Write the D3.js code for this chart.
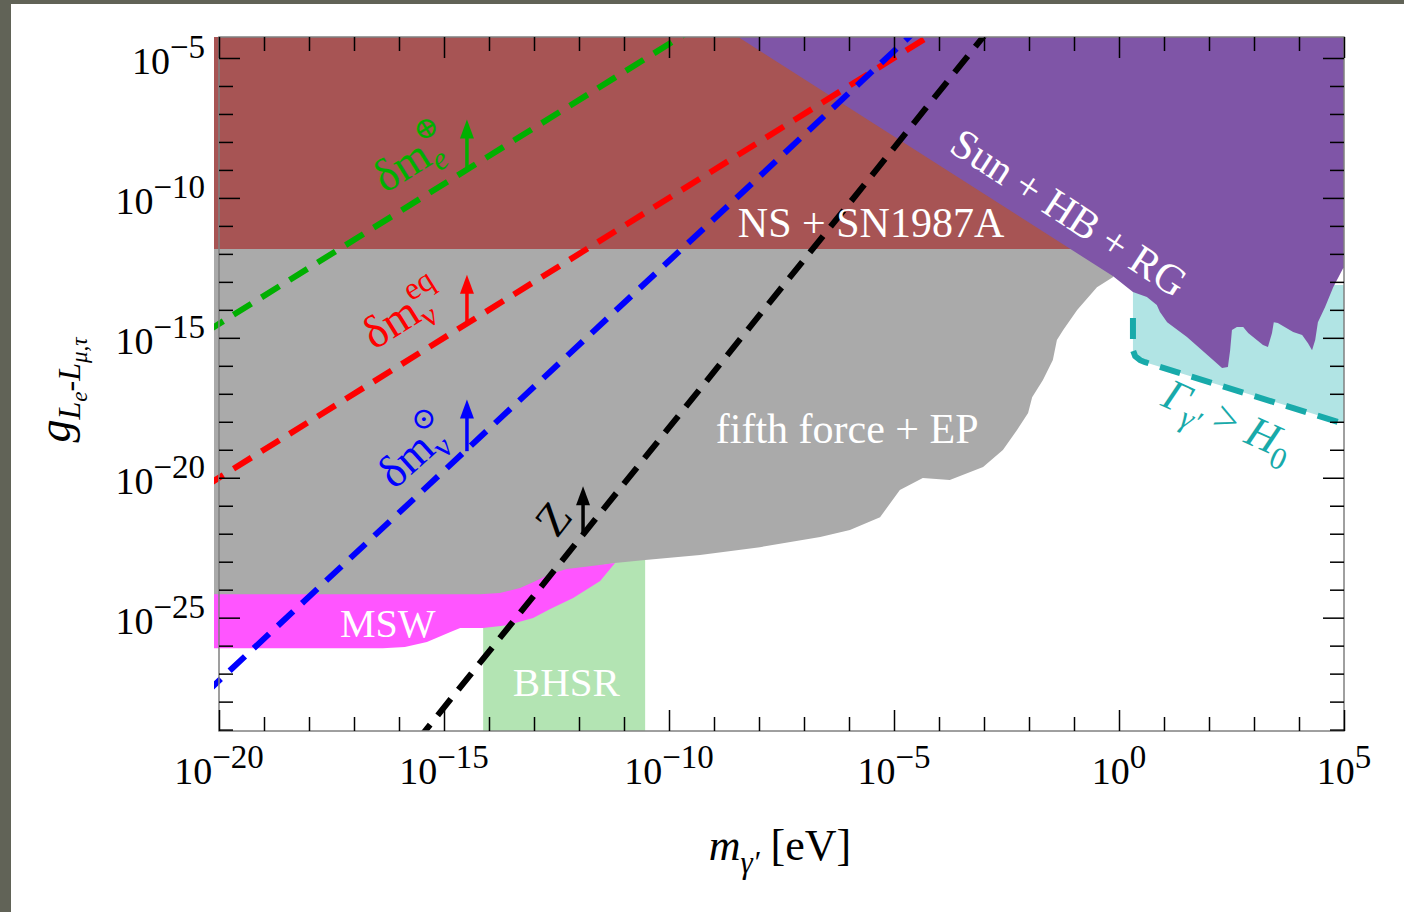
<!DOCTYPE html>
<html>
<head>
<meta charset="utf-8">
<script src="https://cdn.jsdelivr.net/npm/d3@7"></script>
<style>
  html, body { margin: 0; padding: 0; background: #fff; }
  svg { display: block; }
  text { font-family: "Liberation Serif", "DejaVu Serif", serif; }
</style>
</head>
<body>
<div id="chart"></div>
<script>
// all values are log10: [log10(m / eV), log10(g)]
const xMajor = [-20, -15, -10, -5, 0, 5];
const yMajor = [-5, -10, -15, -20, -25];

const bhsr = [[-14.13, -22.6], [-10.53, -22.6], [-10.53, -29.3], [-14.13, -29.3]];

const fifthForce = [
  [-20.12, -11.7], [0.1, -11.7], [-0.13, -12.83], [-0.49, -13.19], [-0.93, -14.01],
  [-1.24, -14.72], [-1.38, -15.08], [-1.47, -15.79], [-1.69, -16.51], [-1.93, -17.12],
  [-2.02, -17.69], [-2.27, -18.30], [-2.58, -19.01], [-3.02, -19.62], [-3.76, -20.08],
  [-4.36, -20.01], [-4.87, -20.44], [-5.31, -21.41], [-5.98, -21.87], [-6.64, -22.12],
  [-7.98, -22.48], [-9.31, -22.76], [-10.53, -22.94], [-11.2, -23.05], [-11.76, -23.2],
  [-12.2, -23.32], [-12.64, -23.55], [-13.02, -23.8], [-13.31, -24.05], [-13.76, -24.22],
  [-14.2, -24.26], [-20.12, -24.26]
];

const msw = [
  [-20.12, -24.16], [-14.2, -24.16], [-13.76, -24.12], [-13.31, -23.94], [-13.02, -23.73],
  [-12.64, -23.44], [-12.27, -23.26], [-11.76, -23.16], [-11.2, -23.05],
  [-11.53, -23.69], [-12.13, -24.30], [-12.64, -24.69], [-13.02, -25.01], [-13.6, -25.27],
  [-14.13, -25.37], [-14.64, -25.37], [-14.87, -25.52], [-15.38, -25.87], [-15.87, -26.05],
  [-16.36, -26.09], [-20.12, -26.09]
];

const nsSn = [[-20.12, -3.8], [1.0, -3.8], [1.0, -11.83], [-20.12, -11.83]];

const sunHbRg = [
  [-8.9, -3.8], [-0.13, -12.8], [0.31, -13.36], [0.62, -13.54], [0.84, -13.83], [0.91, -14.08],
  [1.07, -14.44], [1.51, -14.97], [2.09, -15.79], [2.29, -16.08], [2.42, -16.04], [2.47, -15.44],
  [2.51, -14.72], [2.62, -14.61], [2.76, -14.61], [2.87, -14.83], [3.2, -15.26], [3.31, -15.33],
  [3.4, -14.83], [3.44, -14.44], [3.53, -14.47], [3.87, -14.79], [4.07, -14.9], [4.2, -15.19],
  [4.29, -15.44], [4.36, -15.08], [4.42, -14.44], [4.58, -13.9], [4.76, -13.19], [4.98, -12.51],
  [5.2, -12.51], [5.2, -3.8]
];

const decay = [[0.31, -13.11], [0.31, -15.44], [0.38, -15.69], [0.58, -15.87], [4.91, -18.01], [5.2, -18.05], [5.2, -13.11]];
const decayEdge = [[0.31, -14.29], [0.31, -15.44], [0.36, -15.66], [0.47, -15.8], [0.58, -15.87], [4.87, -18.01]];

const dmEarth = [[-20.3, -14.8], [-9.0, -3.5]];
const dmEq = [[-20.3, -20.3], [-3.5, -3.5]];
const dmSun = [[-20.3, -27.7], [-4.5, -4.0]];
const zLine = [[-15.6, -29.41], [-2.9, -4.01]];

// arrow: [log m, log g at base, log g at tip]
const arrows = [[-14.49, -8.95, -7.2], [-14.49, -14.5, -12.75], [-14.49, -19.05, -17.2], [-11.91, -22.0, -20.3]];
const lineColors = ["#00b000", "#ff0000", "#0000ff", "#000000"];

const W = 1404, H = 912;
const svg = d3.select("#chart").append("svg").attr("width", W).attr("height", H);

svg.append("rect").attr("width", W).attr("height", H).attr("fill", "#fff");
svg.append("rect").attr("width", 11).attr("height", H).attr("fill", "#616357");
svg.append("rect").attr("width", W).attr("height", 4).attr("fill", "#616357");

const x = d3.scaleLog().domain([1e-20, 1e5]).range([219, 1344]);
const y = d3.scaleLog().domain([Math.pow(10, -29.05), Math.pow(10, -4.25)]).range([731, 37]);
const px = e => x(Math.pow(10, e));
const py = e => y(Math.pow(10, e));

svg.append("clipPath").attr("id", "plot")
  .append("rect").attr("x", 214).attr("y", 37).attr("width", 1130).attr("height", 694);

const plot = svg.append("g").attr("clip-path", "url(#plot)");
const line = d3.line().x(d => px(d[0])).y(d => py(d[1]));
const shape = d3.line().x(d => px(d[0])).y(d => py(d[1])).curve(d3.curveLinearClosed);

plot.append("path").attr("d", shape(bhsr)).attr("fill", "#b3e4b3");
plot.append("path").attr("d", shape(fifthForce)).attr("fill", "#aaaaaa");
plot.append("path").attr("d", shape(msw)).attr("fill", "#ff55ff");
plot.append("path").attr("d", shape(nsSn)).attr("fill", "#a75454");
plot.append("path").attr("d", shape(decay)).attr("fill", "#b1e4e4");
plot.append("path").attr("d", shape(sunHbRg)).attr("fill", "#7f55a7");

plot.append("path").attr("d", line(decayEdge)).attr("fill", "none")
  .attr("stroke", "#18aaaa").attr("stroke-width", 6).attr("stroke-dasharray", "21,12");

[dmEarth, dmEq, dmSun, zLine].forEach((l, i) => {
  plot.append("path").attr("d", line(l)).attr("fill", "none")
    .attr("stroke", lineColors[i]).attr("stroke-width", 6).attr("stroke-dasharray", "21,12");
});

arrows.forEach((a, i) => {
  const ax = px(a[0]), yb = py(a[1]), yt = py(a[2]);
  plot.append("line").attr("x1", ax).attr("x2", ax).attr("y1", yb).attr("y2", yt + 14)
    .attr("stroke", lineColors[i]).attr("stroke-width", 3.5);
  plot.append("path").attr("d", `M${ax},${yt}L${ax - 7},${yt + 19}L${ax + 7},${yt + 19}Z`)
    .attr("fill", lineColors[i]);
});

// frame and ticks
svg.append("rect").attr("x", 219).attr("y", 37).attr("width", 1125).attr("height", 694)
  .attr("fill", "none").attr("stroke", "#808080").attr("stroke-width", 1.5);

const xAll = d3.range(-20, 6), yAll = d3.range(-29, -4);
function ticks(axisFn, scale, list, size, tr) {
  svg.append("g").attr("transform", tr)
    .call(axisFn(scale).tickValues(list.map(k => Math.pow(10, k))).tickSize(size).tickFormat(""))
    .call(g => g.select(".domain").remove())
    .selectAll("line").attr("stroke", "#000").attr("stroke-width", 1.5);
}
const xMin = xAll.filter(k => !xMajor.includes(k)), yMin = yAll.filter(k => !yMajor.includes(k));
ticks(d3.axisBottom, x, xMajor, -21, "translate(0,731)");
ticks(d3.axisBottom, x, xMin, -14, "translate(0,731)");
ticks(d3.axisTop, x, xMajor, -21, "translate(0,37)");
ticks(d3.axisTop, x, xMin, -14, "translate(0,37)");
ticks(d3.axisLeft, y, yMajor, -21, "translate(219,0)");
ticks(d3.axisLeft, y, yMin, -14, "translate(219,0)");
ticks(d3.axisRight, y, yMajor, -21, "translate(1344,0)");
ticks(d3.axisRight, y, yMin, -14, "translate(1344,0)");

function rich(tx, ty, angle, anchor, color, parts) {
  const t = svg.append("text")
    .attr("transform", `translate(${tx},${ty}) rotate(${angle})`)
    .attr("text-anchor", anchor).attr("fill", color);
  parts.forEach(p => {
    t.append("tspan").text(p.t).attr("font-size", p.s)
      .attr("dx", p.dx || 0).attr("dy", p.dy || 0)
      .attr("font-style", p.i ? "italic" : "normal");
  });
  return t;
}
const sup = k => (k < 0 ? "\u2212" + Math.abs(k) : String(k));

xMajor.forEach(k => rich(px(k), 784, 0, "middle", "#000",
  [{ t: "10", s: 38 }, { t: sup(k), s: 33, dy: -16 }]));
yMajor.forEach(k => rich(205, py(k) + 16, 0, "end", "#000",
  [{ t: "10", s: 38 }, { t: sup(k), s: 33, dy: -16 }]));

// axis titles
rich(780, 860, 0, "middle", "#000", [
  { t: "m", s: 44, i: true }, { t: "\u03b3\u2032", s: 31, i: true, dy: 13 }, { t: " [eV]", s: 44, dy: -13 }
]);
rich(70, 390, -90, "middle", "#000", [
  { t: "g", s: 46, i: true }, { t: "L", s: 32, i: true, dy: 10 }, { t: "e", s: 23, i: true, dy: 7 },
  { t: "-", s: 32, dy: -7 }, { t: "L", s: 32, i: true }, { t: "\u03bc,\u03c4", s: 23, i: true, dy: 7 }
]);

// region labels
rich(px(-8.47), py(-11.4), 0, "start", "#fff", [{ t: "NS + SN1987A", s: 42 }]);
rich(px(-8.96), py(-18.76), 0, "start", "#fff", [{ t: "fifth force + EP", s: 42 }]);
rich(px(-17.31), py(-25.69), 0, "start", "#fff", [{ t: "MSW", s: 40 }]);
rich(px(-13.47), py(-27.8), 0, "start", "#fff", [{ t: "BHSR", s: 41 }]);
rich(px(-1.28), py(-10.95), 33, "middle", "#fff", [{ t: "Sun + HB + RG", s: 42 }]);
rich(px(2.3), py(-18.4), 24, "middle", "#18aaaa", [
  { t: "\u0393", s: 44, i: true }, { t: "\u03b3\u2032", s: 31, i: true, dy: 11 },
  { t: " > ", s: 44, dy: -11 }, { t: "H", s: 44, i: true }, { t: "0", s: 31, dy: 11 }
]);

// line labels
rich(px(-16.31), py(-9.85), -32, "start", lineColors[0], [
  { t: "\u03b4m", s: 46 }, { t: "e", s: 32, i: true, dy: 10 }, { t: "\u2295", s: 30, dx: -15, dy: -34 }
]);
rich(px(-16.55), py(-15.45), -32, "start", lineColors[1], [
  { t: "\u03b4m", s: 46 }, { t: "\u03bd", s: 32, dy: 10 }, { t: "eq", s: 32, dx: -15, dy: -32 }
]);
rich(px(-16.1), py(-20.45), -42, "start", lineColors[2], [
  { t: "\u03b4m", s: 46 }, { t: "\u03bd", s: 32, dy: 10 }, { t: "\u2299", s: 30, dx: -15, dy: -34 }
]);
rich(px(-12.3), py(-21.8), -52, "middle", lineColors[3], [{ t: "Z", s: 46 }]);
</script>
</body>
</html>
